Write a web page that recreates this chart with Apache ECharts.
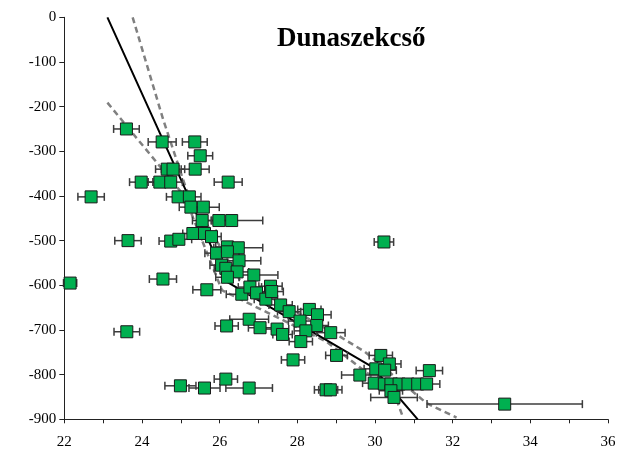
<!DOCTYPE html>
<html>
<head>
<meta charset="utf-8">
<script src="https://cdn.jsdelivr.net/npm/echarts@6/dist/echarts.min.js"></script>
<style>html,body{margin:0;padding:0;background:#fff}#c{width:619px;height:459px}</style>
</head>
<body>
<div id="c"></div>
<script>
// Data (temperature °C on x, depth on y, horizontal error half-width)
const tempX = [23.60,24.52,25.36,25.50,24.65,24.80,25.37,23.98,24.46,24.74,26.22,22.69,24.93,25.22,25.26,25.58,25.55,25.98,26.31,23.64,24.74,24.95,25.31,25.61,25.79,25.92,26.20,26.48,26.20,26.05,26.16,26.50,26.45,26.20,26.88,25.67,26.57,26.78,26.95,27.19,27.31,27.34,27.57,27.79,28.31,28.07,28.52,28.50,28.22,28.86,28.09,26.76,26.18,27.04,27.48,27.62,27.89,29.01,30.15,30.37,30.02,30.25,29.61,31.40,29.98,30.24,30.41,30.62,30.85,31.10,31.33,30.41,30.49,28.74,28.85,24.99,25.61,26.16,26.76,33.34,23.61,22.15,24.54,30.23];
const depthY = [-250,-279,-279,-310,-340,-340,-340,-369,-369,-369,-369,-402,-402,-402,-425,-425,-455,-455,-455,-500,-501,-497,-484,-484,-491,-528,-514,-516,-525,-555,-562,-545,-570,-582,-577,-610,-620,-604,-617,-631,-602,-614,-644,-659,-654,-680,-666,-690,-702,-706,-726,-676,-691,-695,-698,-710,-767,-757,-757,-776,-787,-790,-801,-791,-819,-821,-821,-821,-821,-821,-821,-836,-851,-834,-834,-825,-830,-810,-830,-866,-704,-595,-586,-503];
const errX = [0.33,0.36,0.32,0.32,0.30,0.30,0.36,0.30,0.30,0.30,0.36,0.34,0.30,0.30,0.30,0.41,0.25,0.20,0.80,0.34,0.30,0.33,0.26,0.30,0.25,0.30,0.30,0.63,0.30,0.30,0.30,0.56,0.30,0.30,0.62,0.36,0.40,0.30,0.30,0.30,0.30,0.30,0.30,0.30,0.30,0.30,0.35,0.30,0.30,0.37,0.30,0.50,0.30,0.30,0.30,0.25,0.30,0.28,0.30,0.30,0.30,0.30,0.47,0.34,0.30,0.30,0.30,0.30,0.30,0.30,0.34,0.30,0.60,0.30,0.30,0.40,0.40,0.30,0.60,2.00,0.33,0.17,0.35,0.25];

// Fit line and confidence band
const fitX = [23.11, 26.20, 29.95, 31.10];
const fitY = [0, -593, -784, -900];
const upperX = [23.76, 24.55, 25.15, 26.52, 29.10, 29.74, 31.33, 32.10];
const upperY = [0, -230, -387, -588, -715, -749, -864, -896];
const lowerX = [23.11, 25.11, 25.32, 26.06, 28.75, 29.87, 30.56, 30.73];
const lowerY = [-191, -402, -450, -611, -726, -801, -857, -898];

// Axis ticks
const xTicks = [22, 24, 26, 28, 30, 32, 34, 36];
const yTicks = [0, -100, -200, -300, -400, -500, -600, -700, -800, -900];

const titleText = 'Dunaszekcső';

const zip = (a, b) => a.map((v, i) => [v, b[i]]);
const font = 'Liberation Serif';

const chart = echarts.init(document.getElementById('c'), null, {renderer: 'canvas'});
chart.setOption({
  animation: false,
  backgroundColor: '#fff',
  title: {
    text: titleText,
    left: 272, top: 21,
    textStyle: {fontFamily: font, fontWeight: 'bold', fontSize: 27, color: '#000'}
  },
  grid: {left: 64.3, right: 11, top: 17.3, bottom: 39.7},
  xAxis: {
    type: 'value', min: xTicks[0], max: xTicks[xTicks.length - 1], interval: 1,
    axisLine: {show: true, onZero: false, lineStyle: {color: '#222', width: 1}},
    axisTick: {show: true, length: 4, lineStyle: {color: '#222'}},
    axisLabel: {
      margin: 15, fontFamily: font, fontSize: 15, color: '#000',
      formatter: v => (xTicks.indexOf(v) >= 0 ? String(v) : '')
    },
    splitLine: {show: false}
  },
  yAxis: {
    type: 'value', min: yTicks[yTicks.length - 1], max: yTicks[0], interval: 100,
    axisLine: {show: true, onZero: false, lineStyle: {color: '#222', width: 1}},
    axisTick: {show: true, length: 5, lineStyle: {color: '#222'}},
    axisLabel: {margin: 8, fontFamily: font, fontSize: 15, color: '#000'},
    splitLine: {show: false}
  },
  series: [
    {
      type: 'line', data: zip(upperX, upperY), symbol: 'none', z: 1,
      lineStyle: {color: '#808080', width: 2.5, type: [6, 4]}
    },
    {
      type: 'line', data: zip(lowerX, lowerY), symbol: 'none', z: 1,
      lineStyle: {color: '#808080', width: 2.5, type: [6, 4]}
    },
    {
      type: 'line', data: zip(fitX, fitY), symbol: 'none', z: 1,
      lineStyle: {color: '#000', width: 2}
    },
    {
      type: 'custom', z: 2,
      data: tempX.map((x, i) => [x, depthY[i], errX[i]]),
      encode: {x: 0, y: 1},
      renderItem: function (params, api) {
        const x = api.value(0), y = api.value(1), e = api.value(2);
        const p1 = api.coord([x - e, y]);
        const p2 = api.coord([x + e, y]);
        const h = 4;
        const st = {stroke: '#3c3c3c', lineWidth: 1.5};
        return {
          type: 'group',
          children: [
            {type: 'line', shape: {x1: p1[0], y1: p1[1], x2: p2[0], y2: p2[1]}, style: st},
            {type: 'line', shape: {x1: p1[0], y1: p1[1] - h, x2: p1[0], y2: p1[1] + h}, style: st},
            {type: 'line', shape: {x1: p2[0], y1: p2[1] - h, x2: p2[0], y2: p2[1] + h}, style: st}
          ]
        };
      }
    },
    {
      type: 'scatter', z: 3,
      data: zip(tempX, depthY),
      symbol: 'rect', symbolSize: 12,
      itemStyle: {color: '#00B050', borderColor: '#1a1a1a', borderWidth: 1, opacity: 1}
    }
  ]
});
</script>
</body>
</html>
